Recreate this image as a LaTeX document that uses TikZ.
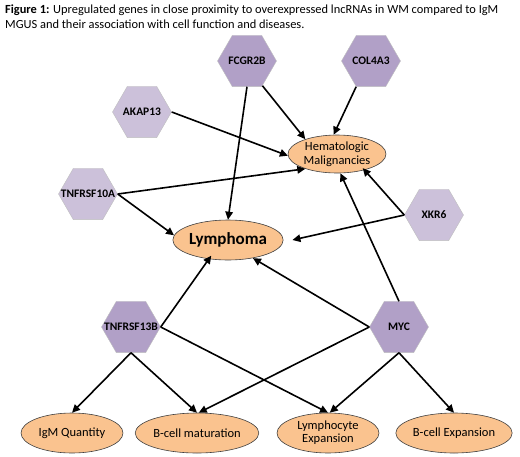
\documentclass[tikz,border=0pt]{standalone}
\usepackage{fontspec}
\setmainfont{Carlito}
\usetikzlibrary{arrows.meta,shapes.geometric}

\definecolor{genedark}{HTML}{B1A0C7}
\definecolor{genelight}{HTML}{CCC1DA}
\definecolor{outcome}{HTML}{FAC38F}

\begin{document}
\begin{tikzpicture}[x=1pt,y=-1pt,>={Triangle[length=8pt,width=7.5pt]}]

  \tikzstyle{every label}=[font=\bfseries\fontsize{11.5}{13}\selectfont, inner sep=0pt]
  \tikzstyle{gene}=[regular polygon, regular polygon sides=6, minimum size=59pt, inner sep=0pt, draw=black!25, line width=0.4pt]
  \tikzstyle{darkgene}=[gene, fill=genedark]
  \tikzstyle{lightgene}=[gene, fill=genelight]
  \tikzstyle{effect}=[ellipse, fill=outcome, draw=black!75, line width=0.6pt, inner sep=0pt, minimum width=102pt, minimum height=40pt, align=center, font=\fontsize{12.5}{14}\selectfont]
  \tikzstyle{link}=[->, line width=1.6pt]

  \useasboundingbox (0,0) rectangle (520,456);

  \node (caption) at (5,5) [anchor=north west, align=left, inner sep=0pt, font=\fontsize{12.4}{14.6}\selectfont]
    {\textbf{Figure 1:} Upregulated genes in close proximity to overexpressed lncRNAs in WM compared to IgM\\
     MGUS and their association with cell function and diseases.};

  %%% genes
  \node[darkgene, label={center:FCGR2B}] (fcgr) at (247,61) {};
  \node[darkgene, label={center:COL4A3}] (col) at (371,61) {};
  \node[lightgene, label={center:AKAP13}] (akap) at (142,112) {};
  \node[lightgene, label={center:TNFRSF10A}] (tnfa) at (88,194) {};
  \node[lightgene, label={center:XKR6}] (xkr) at (434,215) {};
  \node[darkgene, label={center:TNFRSF13B}] (tnfb) at (131,327) {};
  \node[darkgene, label={center:MYC}] (myc) at (399,327) {};

  %%% diseases and cell functions
  \node[effect, minimum width=98pt, minimum height=38pt] (hema) at (337,154) {Hematologic\\Malignancies};
  \node[effect, font=\bfseries\fontsize{17}{19}\selectfont] (lymph) at (228,240) {Lymphoma};
  \node[effect] (igm) at (72,433) {IgM Quantity};
  \node[effect] (bmat) at (197,433) {B-cell maturation};
  \node[effect, font=\fontsize{12.5}{13}\selectfont] (lexp) at (328,433) {Lymphocyte\\Expansion};
  \node[effect] (bexp) at (454,433) {B-cell Expansion};

  %%% upper arrows
  \draw [link] (fcgr.south) -- (lymph.north);
  \draw [link] (fcgr.-58) -- (hema.155);
  \draw [link] (col.-120) -- (hema.100);
  \draw [link] (akap.east) -- (hema.182);
  \draw [link] (tnfa.east) -- (hema.205);
  \draw [link] (tnfa.east) -- (lymph.175);
  \draw [link] (xkr.west) -- ([xshift=3pt,yshift=3pt]hema.-37);
  \draw [link] (xkr.west) -- ([xshift=9pt]lymph.east);
  \draw [link] (myc.north) -- (hema.-80);
  \draw [link] (myc.west) -- (lymph.-36);
  \draw [link] (tnfb.east) -- ([xshift=-3pt,yshift=4pt]lymph.-125);

  %%% lower arrows
  \draw [link] (tnfb.south) -- (igm.north);
  \draw [link] (tnfb.south) -- (bmat.north);
  \draw [link] (tnfb.east) -- (lexp.north);
  \draw [link] (myc.west) -- (bmat.85);
  \draw [link] (myc.south) -- (lexp.85);
  \draw [link] (myc.south) -- (bexp.north);

\end{tikzpicture}
\end{document}
